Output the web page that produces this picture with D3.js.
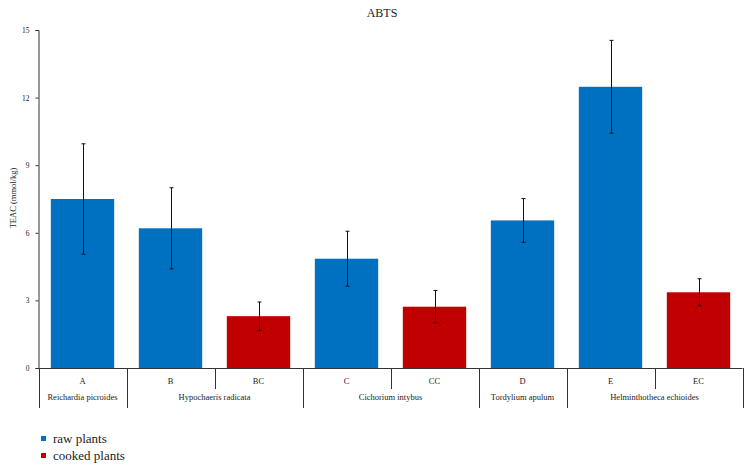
<!DOCTYPE html>
<html>
<head>
<meta charset="utf-8">
<script src="https://d3js.org/d3.v7.min.js"></script>
<style>
  body { margin: 0; background: #fff; }
  text { font-family: "Liberation Serif", "DejaVu Serif", serif; fill: #222; }
</style>
</head>
<body>
<svg id="chart" width="751" height="472"></svg>
<script>
// chart data
var codes   = ["A", "B", "BC", "C", "CC", "D", "E", "EC"];
var values  = [7.5, 6.2, 2.3, 4.85, 2.72, 6.55, 12.48, 3.36];
var errors  = [2.45, 1.8, 0.63, 1.22, 0.72, 0.97, 2.06, 0.6];
var kinds   = ["raw", "raw", "cooked", "raw", "cooked", "raw", "raw", "cooked"];
var groups  = [
  {name: "Reichardia picroides", from: "A", to: "A"},
  {name: "Hypochaeris radicata", from: "B", to: "BC"},
  {name: "Cichorium intybus", from: "C", to: "CC"},
  {name: "Tordylium apulum", from: "D", to: "D"},
  {name: "Helminthotheca echioides", from: "E", to: "EC"}
];
var yTicks = [0, 3, 6, 9, 12, 15];
var legendItems = [
  {key: "raw", label: "raw plants"},
  {key: "cooked", label: "cooked plants"}
];

var colors = {raw: "#0070C0", cooked: "#C00000"};

var svg = d3.select("#chart");
// plot area (note: "top" is reserved on window, so use plotTop)
var plotLeft = 38.5, plotRight = 742.5, plotTop = 30, plotBottom = 368;

var x = d3.scaleBand().domain(codes).range([plotLeft, plotRight]).paddingInner(0).paddingOuter(0);
var y = d3.scaleLinear().domain([0, 15]).range([plotBottom, plotTop]);
var barW = x.bandwidth() * 0.72;

// title
svg.append("text")
  .attr("x", 382).attr("y", 17)
  .attr("text-anchor", "middle")
  .style("font-size", "12px")
  .text("ABTS");

// bars
svg.append("g").selectAll("rect").data(codes).enter().append("rect")
  .attr("x", function(d) { return x(d) + (x.bandwidth() - barW) / 2; })
  .attr("y", function(d, i) { return y(values[i]); })
  .attr("width", barW)
  .attr("height", function(d, i) { return y(0) - y(values[i]); })
  .attr("fill", function(d, i) { return colors[kinds[i]]; });

// error bars
var eb = svg.append("g").attr("stroke", "#111").attr("stroke-width", 1);
codes.forEach(function(d, i) {
  var cx = Math.round(x(d) + x.bandwidth() / 2) + 0.5;
  var y1 = y(values[i] + errors[i]), y2 = y(values[i] - errors[i]);
  eb.append("line").attr("x1", cx).attr("x2", cx).attr("y1", y1).attr("y2", y2);
  eb.append("line").attr("x1", cx - 2).attr("x2", cx + 2).attr("y1", y1).attr("y2", y1);
  eb.append("line").attr("x1", cx - 2).attr("x2", cx + 2).attr("y1", y2).attr("y2", y2);
});

// y axis
var yAxis = svg.append("g")
  .attr("transform", "translate(" + plotLeft + ",0)")
  .call(d3.axisLeft(y).tickValues(yTicks).tickSize(3).tickPadding(6));
yAxis.select(".domain").attr("stroke", "#333");
yAxis.selectAll(".tick line").attr("stroke", "#333");
yAxis.selectAll(".tick text")
  .style("font-family", "'Liberation Serif', serif")
  .style("font-size", "7.5px").attr("fill", "#222");

svg.append("text")
  .attr("transform", "translate(16,198) rotate(-90)")
  .attr("text-anchor", "middle")
  .style("font-size", "8.5px")
  .text("TEAC (mmol/kg)");

// x axis line and category separators
var xa = svg.append("g").attr("stroke", "#333").attr("stroke-width", 1);
xa.append("line").attr("x1", plotLeft).attr("x2", plotRight)
  .attr("y1", plotBottom + 0.5).attr("y2", plotBottom + 0.5);

var groupEdges = [plotLeft];
groups.forEach(function(g) { groupEdges.push(x(g.to) + x.bandwidth()); });
groupEdges.forEach(function(e) {
  var ex = Math.round(e) + 0.5;
  xa.append("line").attr("x1", ex).attr("x2", ex).attr("y1", plotBottom).attr("y2", 408);
});
groups.forEach(function(g) {
  if (g.from !== g.to) {
    var ex = Math.round(x(g.to)) + 0.5;
    xa.append("line").attr("x1", ex).attr("x2", ex).attr("y1", plotBottom).attr("y2", 389);
  }
});

// category labels
svg.append("g").selectAll("text").data(codes).enter().append("text")
  .attr("x", function(d) { return x(d) + x.bandwidth() / 2; })
  .attr("y", 384)
  .attr("text-anchor", "middle")
  .style("font-size", "8.5px")
  .text(function(d) { return d; });

// group labels
svg.append("g").selectAll("text").data(groups).enter().append("text")
  .attr("x", function(g) { return (x(g.from) + x(g.to) + x.bandwidth()) / 2; })
  .attr("y", 400)
  .attr("text-anchor", "middle")
  .style("font-size", "8.5px")
  .text(function(g) { return g.name; });

// legend
var lg = svg.append("g").attr("transform", "translate(41,436)");
legendItems.forEach(function(it, i) {
  lg.append("rect").attr("x", 0).attr("y", i * 17).attr("width", 5).attr("height", 5)
    .attr("fill", colors[it.key]);
  lg.append("text").attr("x", 12).attr("y", i * 17 + 7)
    .style("font-size", "13px")
    .text(it.label);
});
</script>
</body>
</html>
